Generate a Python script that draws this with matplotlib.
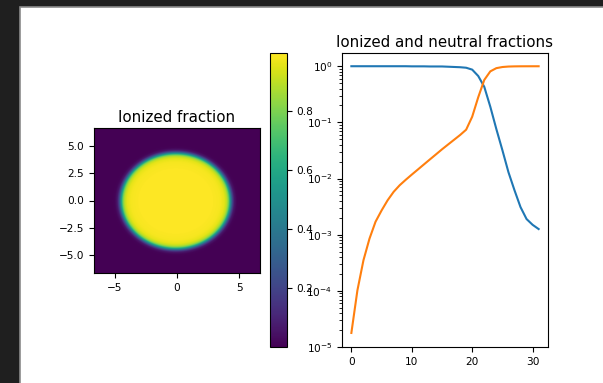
import numpy as np
import matplotlib
matplotlib.use("Agg")
import matplotlib.pyplot as plt
from matplotlib.patches import Rectangle

# Radial profile of the ionized fraction in the 2D map
profile_radius = [0.0, 3.0, 3.6, 3.9, 4.1, 4.25, 4.4, 4.55, 4.7, 4.9, 5.2, 10.0]
profile_frac = [0.9987, 0.995, 0.985, 0.96, 0.9, 0.78, 0.5, 0.22, 0.06, 0.01, 1.8e-5, 1.8e-5]
map_half_width = 6.65
map_center = (-0.1, -0.05)

# Fractions along the cell index
cell_index = list(range(32))
neutral = [1.0, 1.0, 1.0, 1.0, 1.0, 1.0, 1.0, 1.0, 1.0, 1.0,
           0.995, 0.995, 0.995, 0.99, 0.99, 0.99, 0.98, 0.97, 0.96, 0.94,
           0.87, 0.67, 0.43, 0.19, 0.076, 0.032, 0.013, 0.0062, 0.0031,
           0.0019, 0.0015, 0.00126]
ionized = [1.78e-5, 1.02e-4, 3.5e-4, 8.5e-4, 1.7e-3, 2.7e-3, 4.1e-3, 5.8e-3,
           7.6e-3, 9.5e-3, 1.175e-2, 1.445e-2, 1.78e-2, 2.19e-2, 2.69e-2, 3.31e-2,
           4.03e-2, 4.9e-2, 5.96e-2, 7.41e-2, 0.126, 0.28, 0.57, 0.81, 0.924,
           0.968, 0.987, 0.994, 0.997, 0.998, 0.9985, 0.9987]

W, H = 603, 383
fig = plt.figure(figsize=(W / 100, H / 100), dpi=100)
fig.patch.set_facecolor("#1f1f1f")
panel = Rectangle((20 / W, -0.01), 1.0, 1 - 7 / H + 0.01,
                  transform=fig.transFigure, facecolor="white",
                  edgecolor="#8a8a8a", linewidth=1.2, zorder=-10)
fig.add_artist(panel)


def box(x0, x1, y0, y1):
    return [x0 / W, 1 - y1 / H, (x1 - x0) / W, (y1 - y0) / H]


tick_fs = 7.6
title_fs = 10.8

# Ionized fraction map
ax1 = fig.add_axes(box(94, 260, 128, 273))
n = 300
g = np.linspace(-map_half_width, map_half_width, n)
X, Y = np.meshgrid(g, g)
R = np.hypot(X - map_center[0], Y - map_center[1])
field = np.interp(R, profile_radius, profile_frac)
im = ax1.imshow(field, cmap="viridis", origin="lower",
                extent=[-map_half_width, map_half_width, -map_half_width, map_half_width],
                aspect="auto")
ax1.set_xticks([-5, 0, 5])
ax1.set_yticks([-5.0, -2.5, 0.0, 2.5, 5.0])
ax1.tick_params(labelsize=tick_fs)
ax1.set_title("Ionized fraction", fontsize=title_fs, pad=4)

cax = fig.add_axes(box(270, 287, 53, 347))
cb = fig.colorbar(im, cax=cax)
cb.ax.tick_params(labelsize=tick_fs)

# Fractions along the cell index
ax2 = fig.add_axes(box(342, 548, 53, 347))
ax2.semilogy(cell_index, neutral, color="#1f77b4")
ax2.semilogy(cell_index, ionized, color="#ff7f0e")
ax2.set_ylim(1e-5, 1.72)
ax2.tick_params(labelsize=tick_fs)
ax2.set_title("Ionized and neutral fractions", fontsize=title_fs, pad=4)

fig.savefig("out.png", dpi=100, facecolor=fig.get_facecolor())
